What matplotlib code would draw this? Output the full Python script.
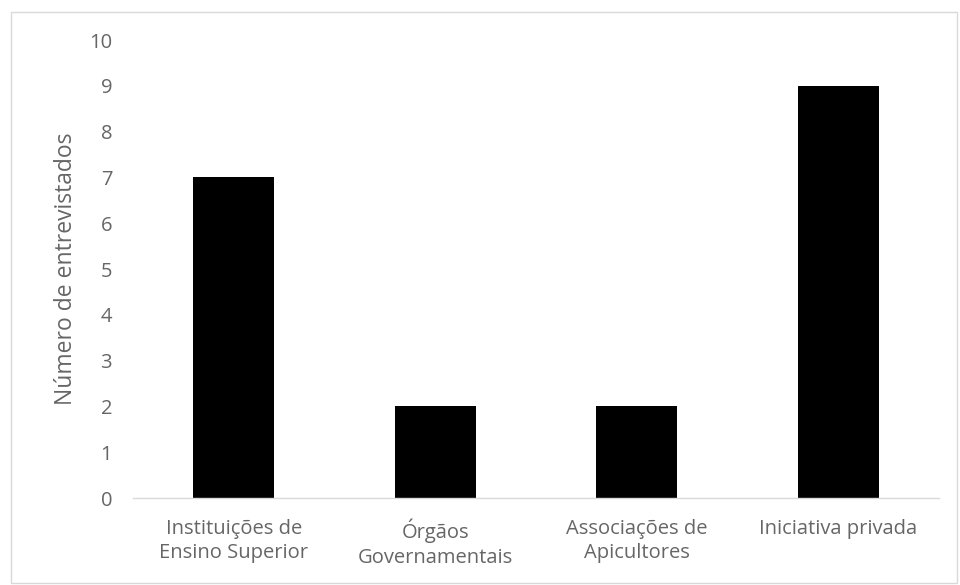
import matplotlib.pyplot as plt
from matplotlib.patches import Rectangle

categorias = ['Instituições de\nEnsino Superior', 'Órgãos\nGovernamentais',
              'Associações de\nApicultores', 'Iniciativa privada']
entrevistados = [7, 2, 2, 9]
yticks = list(range(0, 11))

plt.rcParams['font.family'] = ['Open Sans', 'DejaVu Sans']
texto = '#666666'

fig = plt.figure(figsize=(9.6, 5.85), dpi=100)
ax = fig.add_axes([0.1385, 0.1487, 0.8396, 0.7829])

x = range(len(categorias))
ax.bar(x, entrevistados, width=0.4, color='black')

ax.set_xlim(-0.5, len(categorias) - 0.5)
ax.set_ylim(0, 10)
ax.set_yticks(yticks)
ax.set_xticks(list(x))
ax.set_xticklabels(categorias, fontsize=14.5, color=texto, linespacing=1.3)
ax.tick_params(axis='y', length=0, labelsize=14.5, labelcolor=texto, pad=15)
ax.tick_params(axis='x', length=0, pad=15)

for s in ['top', 'right', 'left']:
    ax.spines[s].set_visible(False)
ax.spines['bottom'].set_color('#d9d9d9')
ax.spines['bottom'].set_linewidth(1)

ax.set_ylabel('Número de entrevistados', fontsize=16.5, color=texto, labelpad=8)

# borda da figura
fig.patches.append(Rectangle((0.011, 0.004), 0.986, 0.976, transform=fig.transFigure,
                             fill=False, edgecolor='#d9d9d9', linewidth=1))

fig.savefig('out.png', dpi=100)
